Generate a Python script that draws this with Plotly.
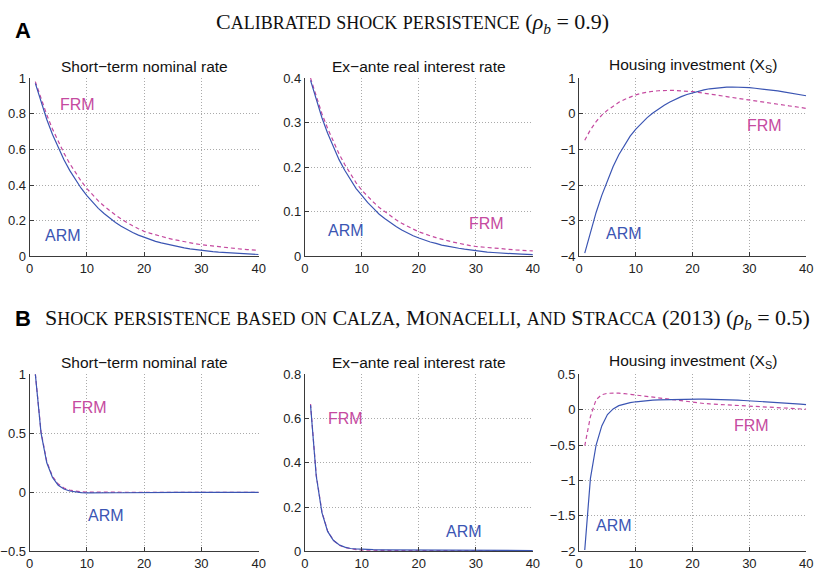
import plotly.graph_objects as go

t = list(range(1, 41))

# Panel A (rho_b = 0.9)
a_nom_arm = [0.97, 0.863, 0.768, 0.684, 0.609, 0.542, 0.482, 0.429, 0.382, 0.340,
             0.303, 0.269, 0.240, 0.213, 0.190, 0.169, 0.150, 0.134, 0.119, 0.106,
             0.094, 0.084, 0.075, 0.067, 0.059, 0.053, 0.047, 0.042, 0.037, 0.033,
             0.029, 0.026, 0.023, 0.021, 0.018, 0.016, 0.015, 0.013, 0.012, 0.010]
a_nom_frm = [0.98, 0.882, 0.794, 0.714, 0.643, 0.579, 0.521, 0.469, 0.422, 0.380,
             0.344, 0.311, 0.282, 0.255, 0.231, 0.209, 0.189, 0.171, 0.155, 0.140,
             0.130, 0.120, 0.111, 0.103, 0.095, 0.088, 0.082, 0.076, 0.070, 0.065,
             0.061, 0.057, 0.053, 0.050, 0.046, 0.043, 0.040, 0.038, 0.035, 0.033]
a_real_arm = [0.395, 0.351, 0.311, 0.276, 0.245, 0.217, 0.193, 0.171, 0.152, 0.137,
              0.121, 0.108, 0.095, 0.085, 0.075, 0.067, 0.059, 0.052, 0.046, 0.041,
              0.036, 0.032, 0.029, 0.025, 0.023, 0.020, 0.018, 0.016, 0.014, 0.012,
              0.011, 0.0095, 0.0085, 0.0075, 0.0067, 0.006, 0.0053, 0.0047, 0.0042, 0.0037]
a_real_frm = [0.400, 0.358, 0.320, 0.287, 0.257, 0.230, 0.206, 0.184, 0.165, 0.148,
              0.134, 0.122, 0.110, 0.100, 0.091, 0.082, 0.074, 0.067, 0.061, 0.055,
              0.050, 0.046, 0.042, 0.038, 0.035, 0.032, 0.029, 0.026, 0.024, 0.022,
              0.0207, 0.0195, 0.0183, 0.0172, 0.0162, 0.0152, 0.0143, 0.0135, 0.0127, 0.012]
a_hous_arm = [-3.91, -3.31, -2.77, -2.29, -1.86, -1.48, -1.15, -0.87, -0.63, -0.43,
              -0.26, -0.11, 0.02, 0.14, 0.24, 0.33, 0.41, 0.48, 0.54, 0.59,
              0.635, 0.67, 0.70, 0.72, 0.735, 0.745, 0.75, 0.748, 0.74, 0.73,
              0.715, 0.70, 0.68, 0.66, 0.64, 0.615, 0.59, 0.565, 0.535, 0.505]
a_hous_frm = [-0.745, -0.45, -0.22, -0.04, 0.10, 0.22, 0.32, 0.40, 0.47, 0.53,
              0.575, 0.61, 0.63, 0.645, 0.655, 0.655, 0.652, 0.645, 0.635, 0.62,
              0.60, 0.58, 0.555, 0.53, 0.505, 0.48, 0.455, 0.43, 0.405, 0.38,
              0.355, 0.33, 0.31, 0.285, 0.265, 0.24, 0.22, 0.20, 0.175, 0.15]

# Panel B (rho_b = 0.5)
b_nom_arm = [1.0, 0.50, 0.25, 0.125, 0.06, 0.028, 0.011, 0.002, -0.003, -0.005,
             -0.006, -0.006, -0.005, -0.005, -0.004, -0.004, -0.003, -0.003, -0.002, -0.002,
             -0.002, -0.001, -0.001, -0.001, -0.001, 0.0, 0.0, 0.0, 0.0, 0.0,
             0.0, 0.0, 0.0, 0.0, 0.0, 0.0, 0.0, 0.0, 0.0, 0.0]
b_nom_frm = [1.0, 0.51, 0.26, 0.135, 0.07, 0.036, 0.018, 0.009, 0.004, 0.002,
             0.001, 0.0005, 0.0003, 0.0002, 0.0001, 0.0, 0.0, 0.0, 0.0, 0.0,
             0.0, 0.0, 0.0, 0.0, 0.0, 0.0, 0.0, 0.0, 0.0, 0.0,
             0.0, 0.0, 0.0, 0.0, 0.0, 0.0, 0.0, 0.0, 0.0, 0.0]
b_real_arm = [0.66, 0.34, 0.175, 0.09, 0.05, 0.03, 0.019, 0.013, 0.011, 0.009,
              0.008, 0.0075, 0.007, 0.0068, 0.0066, 0.0064, 0.0062, 0.006, 0.0058, 0.0056,
              0.0055, 0.0054, 0.0053, 0.0052, 0.0051, 0.005, 0.0049, 0.0048, 0.0047, 0.0046,
              0.0045, 0.0045, 0.0044, 0.0044, 0.0043, 0.0043, 0.0042, 0.0041, 0.0041, 0.004]
b_real_frm = [0.665, 0.345, 0.178, 0.092, 0.05, 0.028, 0.017, 0.011, 0.008, 0.006,
              0.005, 0.0045, 0.0042, 0.004, 0.0039, 0.0038, 0.0037, 0.0036, 0.0035, 0.0035,
              0.0034, 0.0034, 0.0033, 0.0033, 0.0032, 0.0032, 0.0031, 0.0031, 0.0031, 0.003,
              0.003, 0.003, 0.003, 0.003, 0.003, 0.003, 0.003, 0.003, 0.003, 0.003]
b_hous_arm = [-1.98, -0.97, -0.50, -0.23, -0.07, 0.01, 0.055, 0.08, 0.097, 0.11,
              0.12, 0.127, 0.133, 0.137, 0.14, 0.143, 0.145, 0.147, 0.148, 0.148,
              0.148, 0.147, 0.146, 0.144, 0.142, 0.139, 0.136, 0.132, 0.128, 0.124,
              0.12, 0.115, 0.11, 0.105, 0.10, 0.095, 0.09, 0.085, 0.078, 0.07]
b_hous_frm = [-0.51, -0.10, 0.14, 0.21, 0.23, 0.235, 0.232, 0.225, 0.215, 0.20,
              0.19, 0.18, 0.17, 0.16, 0.15, 0.14, 0.13, 0.12, 0.108, 0.097,
              0.092, 0.086, 0.080, 0.075, 0.070, 0.065, 0.060, 0.055, 0.050, 0.045,
              0.041, 0.037, 0.033, 0.029, 0.025, 0.021, 0.017, 0.013, 0.009, 0.005]

panel_titles = ["Short\u2212term nominal rate", "Ex\u2212ante real interest rate",
                "Housing investment (X<sub>S</sub>)"]

y_ranges = [[0, 1], [0, 0.4], [-4, 1], [-0.5, 1], [0, 0.8], [-2, 0.5]]
y_dticks = [0.2, 0.1, 1, 0.5, 0.2, 0.5]
x_ticks = [0, 10, 20, 30, 40]

series = [
    (a_nom_arm, a_nom_frm), (a_real_arm, a_real_frm), (a_hous_arm, a_hous_frm),
    (b_nom_arm, b_nom_frm), (b_real_arm, b_real_frm), (b_hous_arm, b_hous_frm),
]

# label positions (data coords): (FRM x, FRM y, ARM x, ARM y)
label_pos = [
    (8.4, 0.85, 5.9, 0.115),
    (31.9, 0.074, 7.2, 0.057),
    (32.7, -0.34, 8.0, -3.37),
    (10.5, 0.72, 13.4, -0.2),
    (7.2, 0.60, 27.9, 0.09),
    (30.3, -0.23, 6.1, -1.64),
]

ARM_C = "#3b55b3"
FRM_C = "#c54aa0"

x_domains = [[23 / 821, 256 / 821], [303 / 821, 535 / 821], [582 / 821, 813 / 821]]
y_domains = [[1 - 256 / 573, 1 - 73 / 573], [1 - 559 / 573, 1 - 377 / 573]]

fig = go.Figure()
annotations = []
for i, (arm, frm) in enumerate(series):
    row, col = divmod(i, 3)
    n = i + 1
    xa = "x" if n == 1 else f"x{n}"
    ya = "y" if n == 1 else f"y{n}"
    fig.add_trace(go.Scatter(x=t, y=frm, mode="lines", xaxis=xa, yaxis=ya,
                             line=dict(color=FRM_C, width=1.2, dash="4px,3px"),
                             showlegend=False, hoverinfo="skip"))
    fig.add_trace(go.Scatter(x=t, y=arm, mode="lines", xaxis=xa, yaxis=ya,
                             line=dict(color=ARM_C, width=1.2),
                             showlegend=False, hoverinfo="skip"))
    axcommon = dict(showgrid=True, gridcolor="#aaaaaa", griddash="1px,2px", gridwidth=1,
                    zeroline=False, showline=True, linecolor="#3a3a3a", linewidth=1,
                    ticks="inside", ticklen=4, tickcolor="#3a3a3a",
                    tickfont=dict(family="Liberation Sans, Arial", size=13, color="#222222"))
    fig.layout[("xaxis" if n == 1 else f"xaxis{n}")] = dict(
        domain=x_domains[col], range=[0, 40], tickvals=x_ticks, anchor=ya, **axcommon)
    fig.layout[("yaxis" if n == 1 else f"yaxis{n}")] = dict(
        domain=y_domains[row], range=y_ranges[i], dtick=y_dticks[i], tick0=0,
        anchor=xa, **axcommon)
    fx, fy, ax_, ay_ = label_pos[i]
    annotations.append(dict(x=fx, y=fy, xref=xa, yref=ya, text="FRM", showarrow=False,
                            xanchor="center", yanchor="middle",
                            font=dict(family="Liberation Sans, Arial", size=16, color=FRM_C)))
    annotations.append(dict(x=ax_, y=ay_, xref=xa, yref=ya, text="ARM", showarrow=False,
                            xanchor="center", yanchor="middle",
                            font=dict(family="Liberation Sans, Arial", size=16, color=ARM_C)))
    # panel title
    cx = (x_domains[col][0] + x_domains[col][1]) / 2
    annotations.append(dict(x=cx, y=y_domains[row][1], xref="paper", yref="paper",
                            xanchor="center", yanchor="bottom", yshift=1,
                            text=panel_titles[col], showarrow=False,
                            font=dict(family="Liberation Sans, Arial", size=15.5, color="#111111")))


def smallcaps(s, big=22, small=18):
    out = []
    for w in s.split(" "):
        if not w:
            continue
        parts = []
        for ch in w:
            if ch.isalpha() and not ch.isupper():
                parts.append(f"<span style='font-size:{small}px'>{ch.upper()}</span>")
            else:
                parts.append(f"<span style='font-size:{big}px'>{ch}</span>")
        out.append("".join(parts))
    return " ".join(out)

math_a = "<span style='font-size:22px'> (<i>ρ</i><sub><i>b</i></sub> = 0.9)</span>"
math_b = "<span style='font-size:22px'> (<i>ρ</i><sub><i>b</i></sub> = 0.5)</span>"
title_a = smallcaps("Calibrated shock persistence") + math_a
title_b = smallcaps("Shock persistence based on Calza, Monacelli, and Stracca (2013)") + math_b

serif = dict(family="Liberation Serif, Times New Roman", size=22, color="#111111")
annotations.append(dict(x=413 / 821, y=1 - 16 / 573, xref="paper", yref="paper", text=title_a,
                        xanchor="center", yanchor="middle", showarrow=False, font=serif))
annotations.append(dict(x=37 / 821, y=1 - 320 / 573, xref="paper", yref="paper", text=title_b,
                        xanchor="left", yanchor="middle", showarrow=False, font=serif))
annotations.append(dict(x=6 / 821, y=1 - 24 / 573, xref="paper", yref="paper", text="<b>A</b>",
                        xanchor="left", yanchor="middle", showarrow=False,
                        font=dict(family="Liberation Sans, Arial", size=22, color="#000000")))
annotations.append(dict(x=6 / 821, y=1 - 320 / 573, xref="paper", yref="paper", text="<b>B</b>",
                        xanchor="left", yanchor="middle", showarrow=False,
                        font=dict(family="Liberation Sans, Arial", size=22, color="#000000")))

fig.update_layout(width=821, height=573, margin=dict(l=0, r=0, t=0, b=0),
                  paper_bgcolor="white", plot_bgcolor="white",
                  annotations=annotations, showlegend=False)

fig.write_html("out.html")
